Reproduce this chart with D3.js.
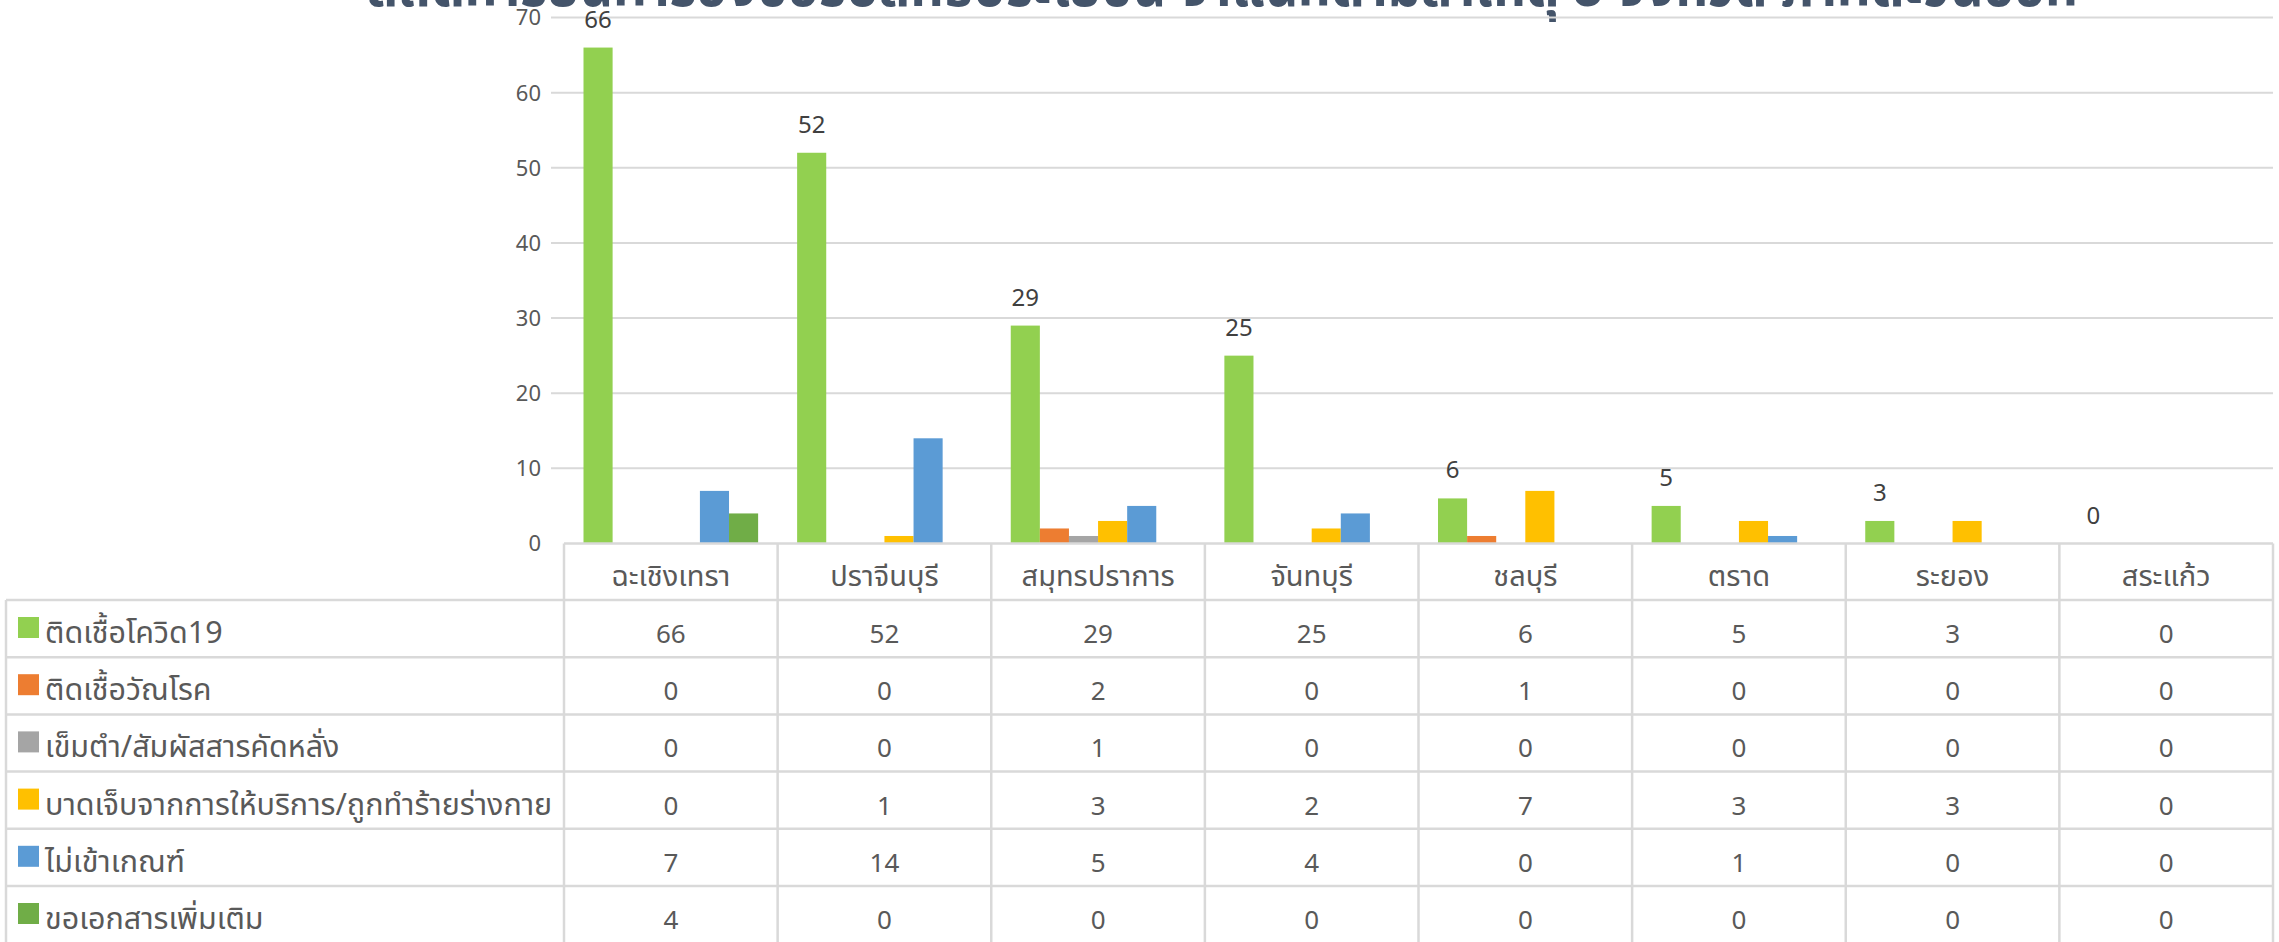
<!DOCTYPE html>
<html><head><meta charset="utf-8">
<script src="https://cdn.jsdelivr.net/npm/d3@7/dist/d3.min.js"></script>
<style>
html,body{margin:0;padding:0;background:#fff;overflow:hidden}
svg{display:block}
text{font-family:"Noto Sans Thai","Noto Sans","Leelawadee UI",sans-serif}
</style></head>
<body>
<svg id="c" width="2279" height="942"></svg>
<script>
const title = "สถิติการยื่นคำร้องขอรับสิทธิประโยชน์ จำแนกตามสาเหตุ 8 จังหวัด ภาคตะวันออก";
const categories = ["ฉะเชิงเทรา","ปราจีนบุรี","สมุทรปราการ","จันทบุรี","ชลบุรี","ตราด","ระยอง","สระแก้ว"];
const seriesNames = ["ติดเชื้อโควิด19","ติดเชื้อวัณโรค","เข็มตำ/สัมผัสสารคัดหลั่ง","บาดเจ็บจากการให้บริการ/ถูกทำร้ายร่างกาย","ไม่เข้าเกณฑ์","ขอเอกสารเพิ่มเติม"];
const covid      = [66,52,29,25,6,5,3,0];
const tb         = [0,0,2,0,1,0,0,0];
const needle     = [0,0,1,0,0,0,0,0];
const injury     = [0,1,3,2,7,3,3,0];
const notEligible= [7,14,5,4,0,1,0,0];
const moreDocs   = [4,0,0,0,0,0,0,0];
const yTicks = [0,10,20,30,40,50,60,70];
const colors = ["#92D050","#ED7D31","#A5A5A5","#FFC000","#5B9BD5","#70AD47"];

const seriesValues = [covid,tb,needle,injury,notEligible,moreDocs];
const svg = d3.select("#c");

const plotL = 564, plotR = 2273, y0 = 543.5, yTop = 17.5;
const x = d3.scaleBand().domain(categories).range([plotL, plotR]).padding(0);
const xs = d3.scaleBand().domain(d3.range(seriesNames.length)).range([0, x.bandwidth()]).paddingInner(0).paddingOuter(0.67);
const y = d3.scaleLinear().domain([0,70]).range([y0, yTop]);

// title (partially cut off at top)
svg.append("text").attr("x", 367).attr("y", 6)
  .attr("textLength", 1711).attr("lengthAdjust","spacingAndGlyphs")
  .attr("font-size", 60).attr("font-weight","bold").attr("fill","#44546A")
  .text(title);

// gridlines
svg.append("g").selectAll("line").data(yTicks.filter(d=>d>0)).join("line")
  .attr("x1", 551).attr("x2", plotR).attr("y1", d=>y(d)).attr("y2", d=>y(d))
  .attr("stroke","#D9D9D9").attr("stroke-width",2);

// y tick labels
svg.append("g").selectAll("text").data(yTicks).join("text")
  .attr("x", 541).attr("y", d=>y(d)).attr("dy","0.36em").attr("text-anchor","end")
  .attr("font-size", 22).attr("fill","#595959").text(d=>d);

// bars
const g = svg.append("g");
seriesValues.forEach((vals, si) => {
  g.append("g").selectAll("rect").data(vals.map((v,i)=>({v, c:categories[i]}))).join("rect")
    .attr("x", d => x(d.c) + xs(si))
    .attr("width", xs.bandwidth())
    .attr("y", d => y(d.v))
    .attr("height", d => y0 - y(d.v))
    .attr("fill", colors[si]);
});

// data labels (first series)
svg.append("g").selectAll("text").data(covid.map((v,i)=>({v,c:categories[i]}))).join("text")
  .attr("x", d => x(d.c) + xs(0) + xs.bandwidth()/2)
  .attr("y", d => y(d.v) - 20)
  .attr("text-anchor","middle").attr("font-size", 24).attr("fill","#404040")
  .text(d=>d.v);

// data table
const tableL = 6, headTop = y0, headH = 56.5, rowH = 57.2;
const tg = svg.append("g");
const lineC = "#D9D9D9";
const rowTops = d3.range(seriesNames.length + 1).map(i => headTop + headH + i*rowH);
tg.append("line").attr("x1", plotL).attr("x2", plotR).attr("y1", headTop).attr("y2", headTop).attr("stroke", lineC).attr("stroke-width", 2.5);
tg.selectAll("line.r").data(rowTops).join("line").attr("class","r")
  .attr("x1", tableL).attr("x2", plotR).attr("y1", d=>d).attr("y2", d=>d)
  .attr("stroke", lineC).attr("stroke-width", 2.5);
const vx = categories.map(c => x(c)).concat([plotR]);
tg.selectAll("line.v").data(vx).join("line").attr("class","v")
  .attr("x1", d=>d).attr("x2", d=>d).attr("y1", headTop).attr("y2", 942)
  .attr("stroke", lineC).attr("stroke-width", 2.5);
tg.append("line").attr("x1", tableL).attr("x2", tableL).attr("y1", rowTops[0]).attr("y2", 942)
  .attr("stroke", lineC).attr("stroke-width", 2.5);

// header category labels
tg.selectAll("text.h").data(categories).join("text").attr("class","h")
  .attr("x", c => x(c) + x.bandwidth()/2).attr("y", headTop + 42)
  .attr("text-anchor","middle").attr("font-size", 29).attr("fill","#595959").text(c=>c);

// legend keys & names
seriesNames.forEach((name, si) => {
  const top = rowTops[si];
  tg.append("rect").attr("x", 18).attr("y", top + 17).attr("width", 21).attr("height", 21).attr("fill", colors[si]);
  tg.append("text").attr("x", 45).attr("y", top + 43).attr("font-size", 30.5).attr("fill","#595959").text(name);
  tg.append("g").selectAll("text").data(seriesValues[si].map((v,i)=>({v,c:categories[i]}))).join("text")
    .attr("x", d => x(d.c) + x.bandwidth()/2).attr("y", top + 43)
    .attr("text-anchor","middle").attr("font-size", 26).attr("fill","#595959").text(d=>d.v);
});
</script>
</body></html>
